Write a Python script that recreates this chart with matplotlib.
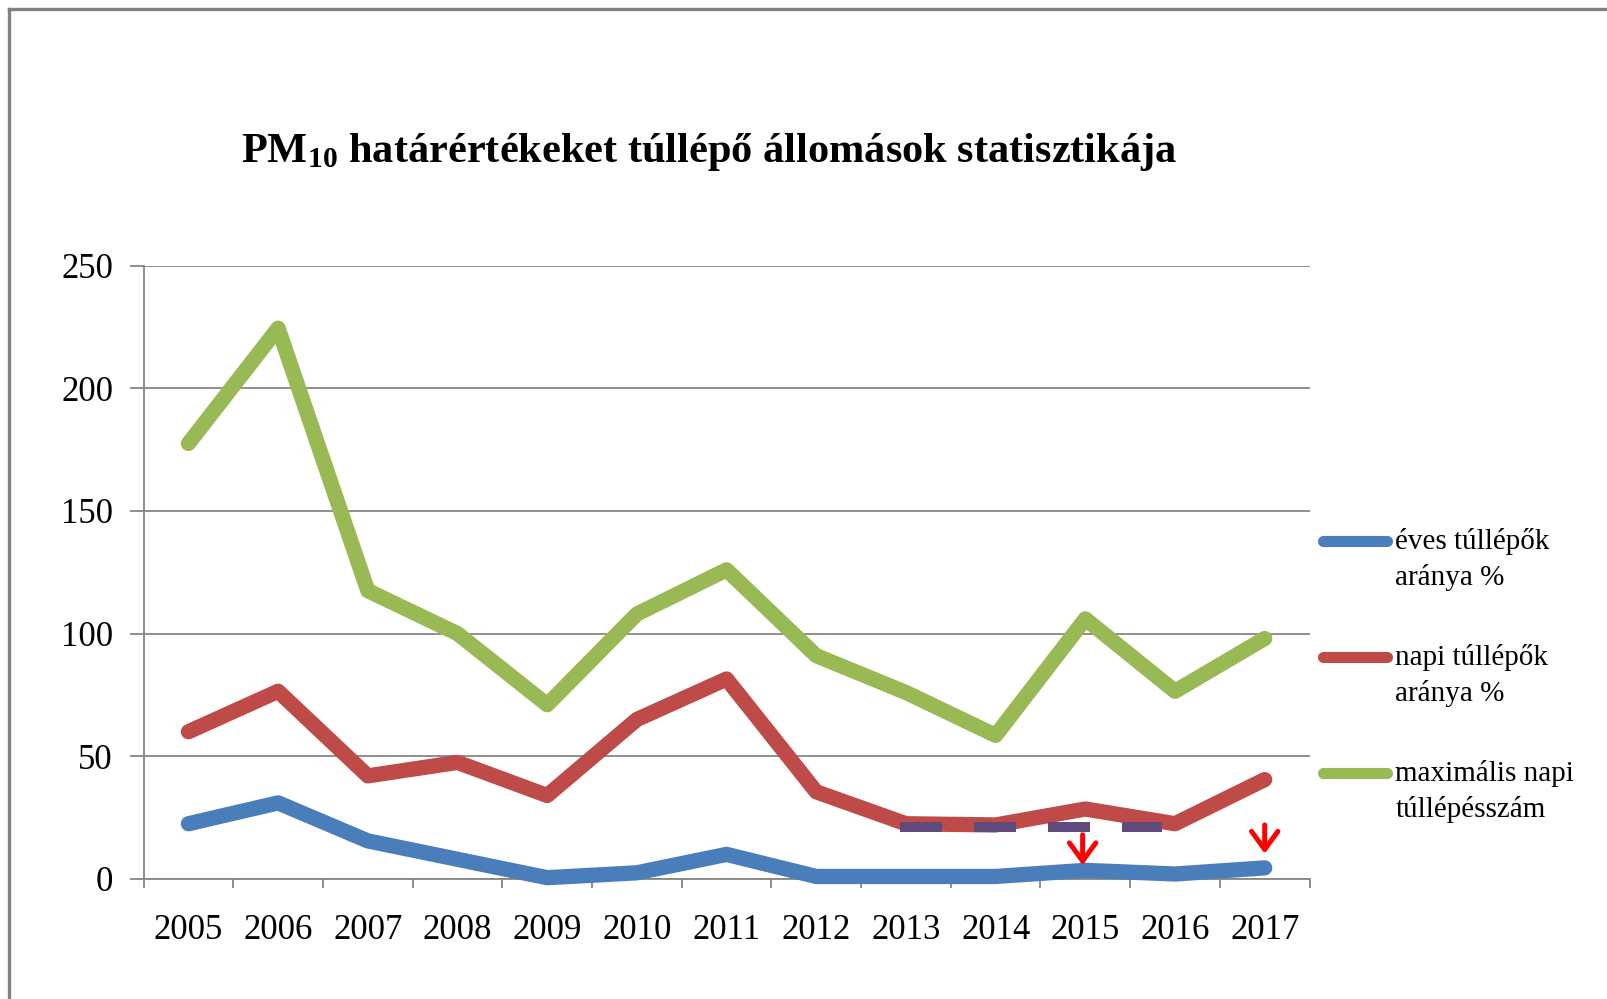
import numpy as np
import matplotlib
matplotlib.use('Agg')
import matplotlib.pyplot as plt
from matplotlib.lines import Line2D
from matplotlib.legend_handler import HandlerLine2D

YEARS = ['2005', '2006', '2007', '2008', '2009', '2010', '2011',
         '2012', '2013', '2014', '2015', '2016', '2017']
EVES = [22.5, 31, 15.5, 8, 0.5, 2.5, 10, 1, 1, 1, 3.5, 2, 4.5]
NAPI = [60, 76.5, 42, 47.5, 34, 65, 81.5, 35.5, 22.5, 22, 28.5, 22.5, 40.5]
MAX_NAPI = [177.5, 224.5, 117.5, 100, 71, 108, 126, 91, 76, 58.5, 106, 76.5, 98]
LABELS = ['éves túllépők\naránya %', 'napi túllépők\naránya %',
          'maximális napi\ntúllépésszám']
COLORS = ['#4a7ebb', '#be4b48', '#98b954']
TITLE = r'$\mathbf{PM_{10}}$ határértékeket túllépő állomások statisztikája'

# dashed limit marker (x in category index units) and the two red arrows
LIMIT_LEVEL = 21
LIMIT_X = [7.93, 10.86]
ARROW_X = [9.97, 12]
ARROW_TAIL = [18, 22]
ARROW_TIP = [5.6, 10.3]

plt.rcParams['font.family'] = ['Liberation Serif', 'DejaVu Serif']
plt.rcParams['mathtext.fontset'] = 'custom'
plt.rcParams['mathtext.bf'] = 'Liberation Serif:bold'
plt.rcParams['mathtext.rm'] = 'Liberation Serif'

GREY = '#868686'


class UpperLineHandler(HandlerLine2D):
    """Put the legend line next to the first text row instead of the middle."""
    def create_artists(self, legend, orig_handle, xdescent, ydescent,
                       width, height, fontsize, trans):
        artists = super().create_artists(legend, orig_handle, xdescent, ydescent,
                                         width, height, fontsize, trans)
        for a in artists:
            a.set_ydata(np.asarray(a.get_ydata()) + 0.62 * fontsize)
        return artists


def main():
    fig = plt.figure(figsize=(16.08, 9.99), dpi=100)
    ax = fig.add_axes([0.0893, 0.1202, 0.8144 - 0.0893, 0.7341 - 0.1202])

    x = np.arange(len(YEARS))
    for vals, col in zip([EVES, NAPI, MAX_NAPI], COLORS):
        ax.plot(x, vals, color=col, lw=11, solid_joinstyle='round',
                solid_capstyle='round', clip_on=False, zorder=3)

    ax.plot(LIMIT_X, [LIMIT_LEVEL, LIMIT_LEVEL], color='#604a7b', lw=7.2,
            dashes=(4.2, 3.2), dash_capstyle='butt', zorder=4)

    for ax_x, tail, tip in zip(ARROW_X, ARROW_TAIL, ARROW_TIP):
        ax.annotate('', xy=(ax_x, tip), xytext=(ax_x, tail),
                    arrowprops=dict(arrowstyle='->,head_length=1.3,head_width=0.95',
                                    color='#ff0000', lw=3.6,
                                    shrinkA=0, shrinkB=0), zorder=5)

    ax.set_xlim(-0.5, len(YEARS) - 0.5)
    ax.set_ylim(0, 250)
    ax.set_yticks(np.arange(0, 251, 50))
    ax.yaxis.grid(True, color=GREY, lw=1.3)
    ax.set_axisbelow(True)

    ax.set_xticks(x)
    ax.set_xticklabels(YEARS)
    ax.set_xticks(np.arange(-0.5, len(YEARS), 1), minor=True)
    ax.tick_params(axis='x', which='major', length=0, pad=25, labelsize=25)
    ax.tick_params(axis='x', which='minor', length=6.5, width=1.3, color=GREY,
                   direction='out')
    ax.tick_params(axis='y', length=10, width=1.3, color=GREY, pad=12,
                   labelsize=25)

    for side in ['top', 'right']:
        ax.spines[side].set_visible(False)
    for side in ['left', 'bottom']:
        ax.spines[side].set_color(GREY)
        ax.spines[side].set_linewidth(1.3)

    handles = [Line2D([], [], color=c, lw=8, solid_capstyle='round') for c in COLORS]
    leg = fig.legend(handles, LABELS, loc='upper left', bbox_to_anchor=(0.8225, 0.4715),
                     frameon=False, fontsize=21, handlelength=2.2, handletextpad=0.3,
                     labelspacing=1.8, borderpad=0, borderaxespad=0,
                     handler_map={Line2D: UpperLineHandler()})
    for t in leg.get_texts():
        t.set_linespacing(1.45)

    fig.text(0.441, 0.838, TITLE, ha='center', va='baseline', fontsize=30.5,
             fontweight='bold')

    # border of the chart area (only top and left are visible in the crop)
    fig.add_artist(Line2D([0.0059, 1.0], [0.9905, 0.9905], color='#808080', lw=2.4,
                          transform=fig.transFigure))
    fig.add_artist(Line2D([0.0059, 0.0059], [0.0, 0.9905], color='#808080', lw=2.4,
                          transform=fig.transFigure))

    fig.savefig('out.png', dpi=100)


if __name__ == '__main__':
    main()
